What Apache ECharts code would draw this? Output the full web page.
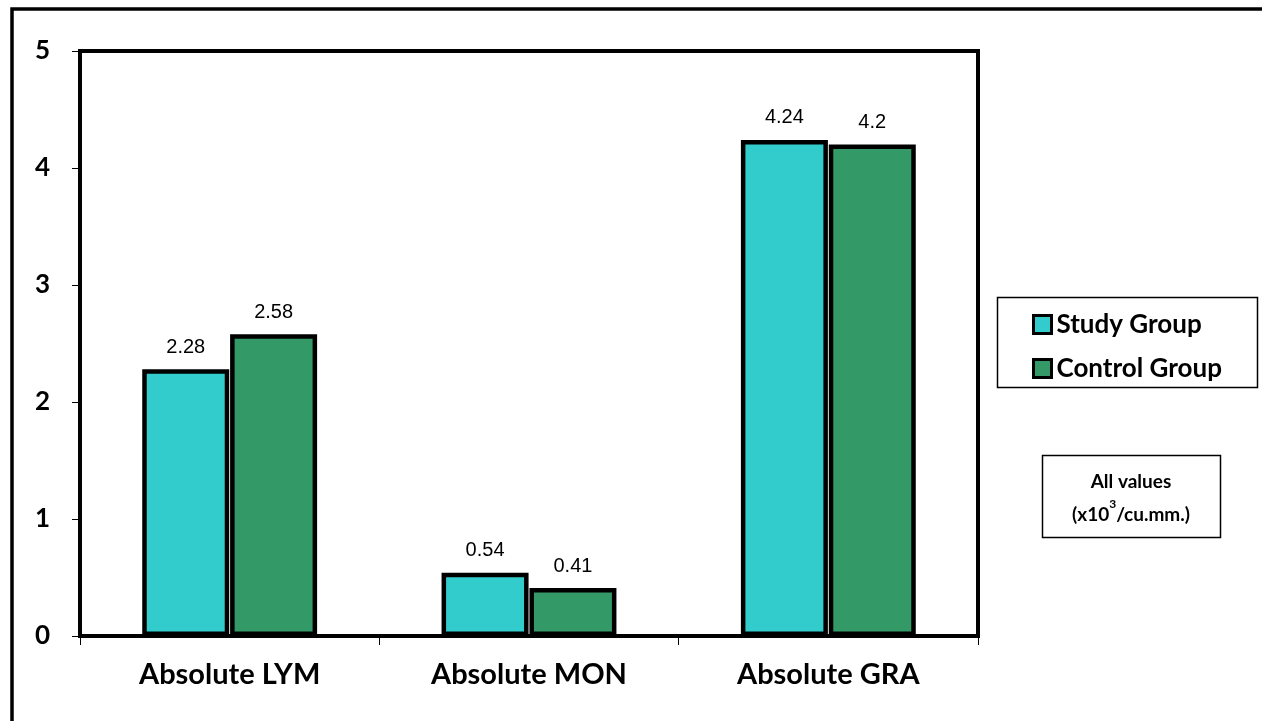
<!DOCTYPE html>
<html>
<head>
<meta charset="utf-8">
<script src="https://cdn.jsdelivr.net/npm/echarts@6/dist/echarts.min.js"></script>
<style>
  html, body { margin: 0; padding: 0; background: #fff; }
  #chart { width: 1262px; height: 721px; }
</style>
</head>
<body>
<div id="chart"></div>
<script>
// Absolute leukocyte counts by group
const categories = ['Absolute LYM', 'Absolute MON', 'Absolute GRA'];
const studyGroup = [2.28, 0.54, 4.24];
const controlGroup = [2.58, 0.41, 4.2];
const seriesNames = ['Study Group', 'Control Group'];
const yTicks = [0, 1, 2, 3, 4, 5];
const noteLines = ['All values', '(x10', '3', '/cu.mm.)'];

const FONT = 'Lato';
const chart = echarts.init(document.getElementById('chart'));

const barLabel = {
  show: true,
  position: 'top',
  distance: 12,
  color: '#000',
  fontFamily: 'Liberation Sans, Arial',
  fontSize: 20
};

chart.setOption({
  animation: false,
  backgroundColor: '#fff',
  grid: {
    left: 80, top: 51, right: 284, bottom: 85,
    show: true, borderColor: '#000', borderWidth: 4, backgroundColor: 'transparent'
  },
  legend: {
    orient: 'vertical',
    left: 1027,
    top: 306,
    itemWidth: 18,
    itemHeight: 18,
    itemGap: 17,
    icon: 'rect',
    itemStyle: { borderColor: '#000', borderWidth: 3 },
    textStyle: { fontFamily: FONT, fontWeight: 'bold', fontSize: 26, color: '#000', lineHeight: 27, padding: [0, 0, 0, 0] },
    data: seriesNames
  },
  xAxis: {
    type: 'category',
    data: categories,
    axisLine: { show: true, lineStyle: { color: '#000', width: 4 } },
    axisTick: { show: true, length: 9, lineStyle: { color: '#000', width: 1 } },
    axisLabel: { color: '#000', fontFamily: FONT, fontWeight: 'bold', fontSize: 29, margin: 24 }
  },
  yAxis: {
    type: 'value',
    min: 0, max: 5, interval: 1,
    axisLine: { show: false },
    axisTick: { show: true, length: 8, lineStyle: { color: '#000', width: 1 } },
    splitLine: { show: false },
    axisLabel: {
      color: '#000', fontFamily: FONT, fontWeight: 'bold', fontSize: 26, margin: 30,
      formatter: v => yTicks.includes(v) ? String(v) : ''
    }
  },
  series: [
    {
      name: seriesNames[0], type: 'bar', data: studyGroup,
      barWidth: 87, barGap: '1%',
      itemStyle: { color: '#33CCCC', borderColor: '#000', borderWidth: 4.5 },
      label: barLabel
    },
    {
      name: seriesNames[1], type: 'bar', data: controlGroup,
      barWidth: 87,
      itemStyle: { color: '#339966', borderColor: '#000', borderWidth: 4.5 },
      label: barLabel
    }
  ],
  graphic: [
    // outer frame
    { type: 'polyline', shape: { points: [[12, 721], [12, 9], [1262, 9]] }, style: { stroke: '#000', lineWidth: 3.5, fill: null } },
    // legend frame
    { type: 'rect', shape: { x: 997.5, y: 297.5, width: 260, height: 90 }, style: { fill: null, stroke: '#000', lineWidth: 1.5 } },
    // units note
    { type: 'rect', shape: { x: 1042.5, y: 455.5, width: 178, height: 82 }, style: { fill: null, stroke: '#000', lineWidth: 1.5 } },
    {
      type: 'text', x: 1131, y: 482, z: 10,
      style: {
        text: noteLines[0], x: 0, y: 0, align: 'center', verticalAlign: 'middle',
        fontFamily: FONT, fontWeight: 'bold', fontSize: 19, fill: '#000'
      }
    },
    {
      type: 'text', x: 1131, y: 511, z: 10,
      style: {
        text: '{a|' + noteLines[1] + '}{s|' + noteLines[2] + '}{a|' + noteLines[3] + '}',
        x: 0, y: 0, align: 'center', verticalAlign: 'middle',
        rich: {
          a: { fontFamily: FONT, fontWeight: 'bold', fontSize: 19, lineHeight: 26, fill: '#000', color: '#000', verticalAlign: 'bottom' },
          s: { fontFamily: FONT, fontWeight: 'bold', fontSize: 12, lineHeight: 26, fill: '#000', color: '#000', verticalAlign: 'top', padding: [0, 0, 8, 0] }
        }
      }
    }
  ]
});
</script>
</body>
</html>
